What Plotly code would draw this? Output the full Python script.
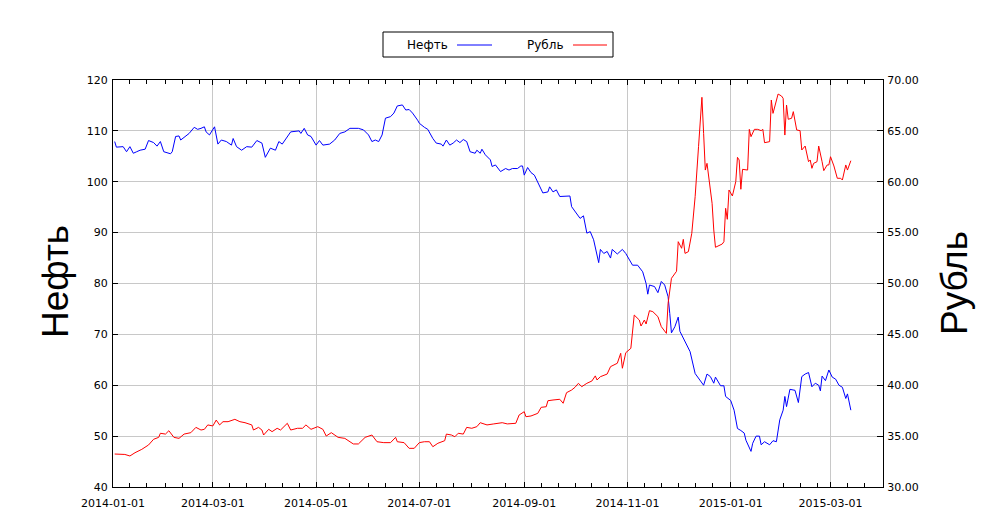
import pandas as pd
import plotly.graph_objects as go

# Brent oil price, USD (left axis)
oilDates = [
    "2014-01-02", "2014-01-03", "2014-01-07", "2014-01-09", "2014-01-11", "2014-01-13", "2014-01-15",
    "2014-01-17", "2014-01-20", "2014-01-22", "2014-01-25", "2014-01-27", "2014-01-29", "2014-01-31",
    "2014-02-04", "2014-02-05", "2014-02-07", "2014-02-09", "2014-02-10", "2014-02-13", "2014-02-15",
    "2014-02-18", "2014-02-20", "2014-02-22", "2014-02-24", "2014-02-25", "2014-02-27", "2014-03-02",
    "2014-03-04", "2014-03-06", "2014-03-09", "2014-03-12", "2014-03-13", "2014-03-15", "2014-03-18",
    "2014-03-21", "2014-03-24", "2014-03-27", "2014-03-30", "2014-04-01", "2014-04-04", "2014-04-07",
    "2014-04-09", "2014-04-11", "2014-04-14", "2014-04-16", "2014-04-21", "2014-04-22", "2014-04-24",
    "2014-04-26", "2014-04-28", "2014-05-01", "2014-05-03", "2014-05-05", "2014-05-09", "2014-05-12",
    "2014-05-15", "2014-05-18", "2014-05-21", "2014-05-26", "2014-05-29", "2014-06-01", "2014-06-03",
    "2014-06-05", "2014-06-07", "2014-06-09", "2014-06-11", "2014-06-14", "2014-06-16", "2014-06-18",
    "2014-06-21", "2014-06-23", "2014-06-25", "2014-06-27", "2014-06-30", "2014-07-01", "2014-07-04",
    "2014-07-06", "2014-07-09", "2014-07-11", "2014-07-14", "2014-07-15", "2014-07-17", "2014-07-19",
    "2014-07-21", "2014-07-23", "2014-07-25", "2014-07-27", "2014-07-29", "2014-07-31", "2014-08-03",
    "2014-08-04", "2014-08-06", "2014-08-07", "2014-08-09", "2014-08-12", "2014-08-13", "2014-08-15",
    "2014-08-18", "2014-08-21", "2014-08-23", "2014-08-25", "2014-08-28", "2014-08-30", "2014-08-31",
    "2014-09-01", "2014-09-03", "2014-09-05", "2014-09-07", "2014-09-10", "2014-09-12", "2014-09-15",
    "2014-09-16", "2014-09-18", "2014-09-20", "2014-09-22", "2014-09-26", "2014-09-28", "2014-09-29",
    "2014-10-02", "2014-10-04", "2014-10-06", "2014-10-08", "2014-10-10", "2014-10-12", "2014-10-15",
    "2014-10-16", "2014-10-18", "2014-10-20", "2014-10-22", "2014-10-23", "2014-10-26", "2014-10-29",
    "2014-10-31", "2014-11-04", "2014-11-07", "2014-11-09", "2014-11-10", "2014-11-12", "2014-11-13",
    "2014-11-14", "2014-11-17", "2014-11-19", "2014-11-21", "2014-11-23", "2014-11-25", "2014-11-26",
    "2014-11-27", "2014-11-29", "2014-12-01", "2014-12-02", "2014-12-05", "2014-12-08", "2014-12-11",
    "2014-12-14", "2014-12-16", "2014-12-18", "2014-12-20", "2014-12-22", "2014-12-23", "2014-12-26",
    "2014-12-28", "2014-12-29", "2015-01-01", "2015-01-03", "2015-01-05", "2015-01-07", "2015-01-09",
    "2015-01-10", "2015-01-13", "2015-01-14", "2015-01-16", "2015-01-18", "2015-01-19", "2015-01-21",
    "2015-01-24", "2015-01-26", "2015-01-28", "2015-01-30", "2015-02-01", "2015-02-02", "2015-02-03",
    "2015-02-05", "2015-02-08", "2015-02-10", "2015-02-12", "2015-02-14", "2015-02-16", "2015-02-18",
    "2015-02-20", "2015-02-22", "2015-02-23", "2015-02-24", "2015-02-26", "2015-02-28", "2015-03-02",
    "2015-03-04", "2015-03-06", "2015-03-08", "2015-03-10", "2015-03-11", "2015-03-13",
]
oilPrices = [
    107.9, 106.8, 106.9, 105.9, 106.9, 105.6, 105.9,
    106.2, 106.4, 108.1, 107.7, 107.0, 107.9, 105.9,
    105.5, 105.9, 108.9, 109.0, 108.2, 108.9, 109.5,
    110.7, 110.3, 110.5, 110.8, 109.8, 109.2, 110.8,
    107.4, 108.2, 107.9, 107.2, 108.5, 106.9, 106.2,
    106.9, 106.8, 108.1, 107.6, 104.8, 106.6, 106.2,
    107.9, 107.4, 108.9, 109.8, 110.0, 109.5, 110.5,
    109.2, 108.9, 107.2, 108.1, 107.2, 107.4, 108.2,
    109.5, 109.8, 110.5, 110.5, 110.2, 109.2, 107.9,
    108.2, 107.9, 109.2, 112.5, 112.8, 113.5, 114.9,
    115.1, 114.1, 114.2, 113.5, 112.1, 111.5, 110.7,
    110.3, 108.5, 107.6, 107.4, 107.0, 108.2, 107.2,
    107.6, 108.2, 107.7, 108.3, 107.9, 105.9, 105.6,
    106.2, 105.6, 106.4, 105.3, 104.3, 103.0, 103.3,
    102.0, 102.6, 102.3, 102.6, 102.6, 103.1, 103.1,
    101.3, 102.8, 101.8, 101.3, 99.0, 97.8, 98.0,
    99.0, 98.0, 98.4, 97.1, 97.1, 97.2, 95.1,
    93.7, 92.8, 93.3, 89.9, 90.2, 88.6, 84.1,
    86.7, 85.9, 86.3, 85.0, 86.7, 85.8, 86.7,
    85.9, 83.6, 83.6, 82.7, 82.3, 80.0, 77.9,
    79.7, 79.4, 78.2, 80.4, 79.7, 77.4, 74.1,
    70.3, 71.5, 73.4, 70.6, 68.6, 66.6, 62.3,
    61.0, 60.0, 62.2, 61.7, 60.4, 61.6, 59.9,
    59.9, 57.8, 57.0, 55.1, 51.5, 51.1, 50.6,
    49.2, 47.0, 48.6, 50.0, 50.0, 48.3, 48.9,
    48.3, 49.1, 48.9, 53.2, 55.1, 57.8, 55.8,
    59.2, 59.0, 56.6, 61.7, 62.2, 62.5, 59.7,
    60.4, 60.0, 58.9, 61.8, 60.9, 63.0, 61.6,
    61.2, 60.0, 59.6, 57.4, 58.3, 55.1,
]

# USD/RUB rate (right axis)
rubDates = [
    "2014-01-02", "2014-01-08", "2014-01-11", "2014-01-14", "2014-01-18", "2014-01-22", "2014-01-25",
    "2014-01-28", "2014-01-29", "2014-02-01", "2014-02-03", "2014-02-06", "2014-02-09", "2014-02-12",
    "2014-02-16", "2014-02-19", "2014-02-22", "2014-02-24", "2014-02-26", "2014-03-01", "2014-03-03",
    "2014-03-05", "2014-03-07", "2014-03-10", "2014-03-14", "2014-03-17", "2014-03-20", "2014-03-24",
    "2014-03-25", "2014-03-28", "2014-03-30", "2014-03-31", "2014-04-03", "2014-04-05", "2014-04-08",
    "2014-04-10", "2014-04-14", "2014-04-16", "2014-04-20", "2014-04-23", "2014-04-25", "2014-04-28",
    "2014-05-02", "2014-05-05", "2014-05-07", "2014-05-10", "2014-05-14", "2014-05-18", "2014-05-23",
    "2014-05-26", "2014-05-30", "2014-06-03", "2014-06-06", "2014-06-10", "2014-06-14", "2014-06-17",
    "2014-06-18", "2014-06-22", "2014-06-25", "2014-06-28", "2014-07-01", "2014-07-04", "2014-07-07",
    "2014-07-09", "2014-07-12", "2014-07-16", "2014-07-17", "2014-07-20", "2014-07-22", "2014-07-24",
    "2014-07-27", "2014-07-29", "2014-08-01", "2014-08-04", "2014-08-06", "2014-08-10", "2014-08-14",
    "2014-08-19", "2014-08-22", "2014-08-27", "2014-08-29", "2014-09-01", "2014-09-02", "2014-09-05",
    "2014-09-09", "2014-09-11", "2014-09-14", "2014-09-15", "2014-09-18", "2014-09-22", "2014-09-24",
    "2014-09-26", "2014-09-29", "2014-10-01", "2014-10-03", "2014-10-05", "2014-10-08", "2014-10-11",
    "2014-10-13", "2014-10-14", "2014-10-16", "2014-10-20", "2014-10-22", "2014-10-26", "2014-10-28",
    "2014-10-29", "2014-10-31", "2014-11-03", "2014-11-05", "2014-11-08", "2014-11-09", "2014-11-11",
    "2014-11-12", "2014-11-14", "2014-11-16", "2014-11-19", "2014-11-21", "2014-11-24", "2014-11-25",
    "2014-11-27", "2014-11-30", "2014-12-01", "2014-12-03", "2014-12-04", "2014-12-05", "2014-12-07",
    "2014-12-09", "2014-12-11", "2014-12-13", "2014-12-15", "2014-12-16", "2014-12-17", "2014-12-18",
    "2014-12-19", "2014-12-21", "2014-12-22", "2014-12-23", "2014-12-27", "2014-12-28", "2014-12-29",
    "2014-12-30", "2014-12-31", "2015-01-02", "2015-01-04", "2015-01-05", "2015-01-06", "2015-01-07",
    "2015-01-08", "2015-01-11", "2015-01-12", "2015-01-13", "2015-01-15", "2015-01-17", "2015-01-19",
    "2015-01-20", "2015-01-21", "2015-01-24", "2015-01-25", "2015-01-26", "2015-01-29", "2015-01-31",
    "2015-02-01", "2015-02-02", "2015-02-03", "2015-02-04", "2015-02-06", "2015-02-07", "2015-02-09",
    "2015-02-11", "2015-02-12", "2015-02-14", "2015-02-16", "2015-02-17", "2015-02-18", "2015-02-19",
    "2015-02-21", "2015-02-22", "2015-02-24", "2015-02-25", "2015-02-27", "2015-02-28", "2015-03-01",
    "2015-03-03", "2015-03-05", "2015-03-07", "2015-03-08", "2015-03-10", "2015-03-11", "2015-03-13",
]
rubRates = [
    33.24, 33.20, 33.05, 33.37, 33.70, 34.13, 34.69,
    34.88, 35.28, 35.20, 35.53, 34.88, 34.78, 35.20,
    35.34, 35.86, 35.60, 35.67, 36.10, 36.00, 36.58,
    36.10, 36.42, 36.42, 36.65, 36.42, 36.32, 36.10,
    35.60, 35.86, 35.60, 35.11, 35.67, 35.44, 35.77,
    35.60, 36.26, 35.60, 35.77, 35.77, 36.10, 35.67,
    35.93, 35.67, 35.01, 35.34, 34.88, 34.78, 34.23,
    34.23, 34.88, 35.11, 34.45, 34.36, 34.36, 34.88,
    34.45, 34.36, 33.80, 33.80, 34.36, 34.45, 34.45,
    33.96, 34.30, 34.55, 35.20, 35.11, 34.94, 35.28,
    35.20, 35.86, 35.77, 35.93, 36.32, 36.10, 36.20,
    36.32, 36.20, 36.26, 37.08, 37.40, 36.91, 36.98,
    37.24, 37.83, 37.89, 38.48, 38.55, 38.62, 38.23,
    39.27, 39.53, 39.80, 40.19, 39.86, 40.19, 40.42,
    40.92, 40.52, 40.84, 41.10, 41.83, 42.16, 43.14,
    41.67, 43.20, 43.63, 46.90, 46.41, 45.82, 46.41,
    46.02, 47.33, 47.23, 46.74, 45.76, 45.10, 48.05,
    50.51, 51.20, 54.11, 53.46, 54.34, 52.96, 53.13,
    54.93, 58.54, 63.45, 68.30, 64.76, 61.15, 61.81,
    60.50, 57.88, 55.26, 53.56, 53.88, 54.11, 57.39,
    56.31, 59.19, 58.60, 60.01, 62.40, 62.14, 59.26,
    61.22, 61.15, 65.15, 64.43, 65.15, 65.15, 65.02,
    65.15, 63.84, 63.94, 68.03, 66.72, 68.62, 68.43,
    68.20, 64.59, 67.54, 66.14, 66.24, 66.89, 65.09,
    65.02, 63.12, 63.51, 61.97, 62.14, 61.32, 61.81,
    61.97, 63.51, 61.97, 61.09, 61.65, 61.65, 62.46,
    61.55, 60.34, 60.34, 60.17, 61.65, 61.15, 62.07,
]

seriesNames = ["Нефть", "Рубль"]
seriesColors = ["#0000ff", "#ff0000"]

# minor x ticks on the 1st, 11th and 21st of every month
minorTicks = [d for d in pd.date_range("2014-01-01", "2015-03-31") if d.day in (1, 11, 21)]

fig = go.Figure()
fig.add_trace(go.Scatter(x=oilDates, y=oilPrices, name=seriesNames[0], mode="lines",
                         line=dict(color=seriesColors[0], width=1)))
fig.add_trace(go.Scatter(x=rubDates, y=rubRates, name=seriesNames[1], mode="lines",
                         line=dict(color=seriesColors[1], width=1), yaxis="y2"))

tickFont = dict(family="DejaVu Sans", size=11, color="#000")
gridColor = "#c8c8c8"

# the page body adds an 8px offset, so the figure is 8px smaller than the window
fig.update_layout(
    width=985, height=522,
    margin=dict(l=105, r=110, t=72, b=43),
    paper_bgcolor="white", plot_bgcolor="white",
    showlegend=False,
    xaxis=dict(
        type="date", range=["2014-01-01", "2015-04-01"],
        tick0="2014-01-01", dtick="M2", tickformat="%Y-%m-%d",
        ticks="inside", ticklen=5, tickcolor="black", ticklabelstandoff=6,
        showline=True, linecolor="black", linewidth=1, mirror="ticks",
        showgrid=True, gridcolor=gridColor, gridwidth=1,
        tickfont=tickFont,
        minor=dict(tickmode="array", tickvals=minorTicks, ticks="inside", ticklen=4,
                   tickcolor="black", showgrid=False),
    ),
    yaxis=dict(
        range=[40, 120], dtick=10,
        ticks="inside", ticklen=5, tickcolor="black", ticklabelstandoff=2,
        showline=True, linecolor="black", linewidth=1,
        showgrid=True, gridcolor=gridColor, gridwidth=1,
        tickfont=tickFont, zeroline=False,
    ),
    yaxis2=dict(
        range=[30, 70], dtick=5, tickformat=".2f",
        overlaying="y", side="right",
        ticks="inside", ticklen=6, tickcolor="black", ticklabelstandoff=1,
        showline=True, linecolor="black", linewidth=1,
        showgrid=False, tickfont=tickFont, zeroline=False,
    ),
)

plotW, plotH = 770, 407
plotLeft, plotBottom = 113, 487  # window pixels

def px(x):
    return (x - plotLeft) / plotW

def py(y):
    return (plotBottom - y) / plotH

# axis titles
fig.add_annotation(text=seriesNames[0], xref="paper", yref="paper", x=px(55), y=py(282),
                   xanchor="center", yanchor="middle", textangle=-90, showarrow=False,
                   font=dict(family="Liberation Sans", size=37, color="black"))
fig.add_annotation(text=seriesNames[1], xref="paper", yref="paper", x=px(954), y=py(283),
                   xanchor="center", yanchor="middle", textangle=-90, showarrow=False,
                   font=dict(family="Liberation Sans", size=37, color="black"))

# legend box: text followed by line sample
fig.add_shape(type="rect", xref="paper", yref="paper",
              x0=px(383), x1=px(613), y0=py(57), y1=py(32),
              line=dict(color="black", width=1), fillcolor="white")
legendTextX = [450, 565]
legendLineX = [(457, 492), (573, 607)]
for name, color, tx, (lx0, lx1) in zip(seriesNames, seriesColors, legendTextX, legendLineX):
    fig.add_annotation(text=name, xref="paper", yref="paper", x=px(tx), y=py(45),
                       xanchor="right", yanchor="middle", showarrow=False,
                       font=dict(family="DejaVu Sans", size=12, color="black"))
    fig.add_shape(type="line", xref="paper", yref="paper",
                  x0=px(lx0), x1=px(lx1), y0=py(45), y1=py(45),
                  line=dict(color=color, width=1))

fig.write_html("out.html")
